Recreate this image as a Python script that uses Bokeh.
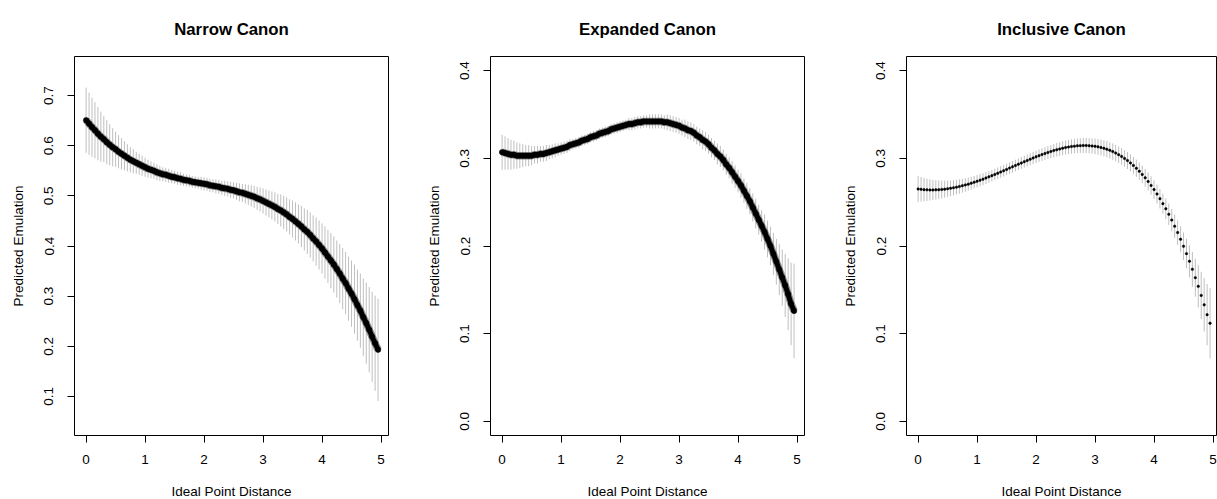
from bokeh.plotting import figure
from bokeh.layouts import row
from bokeh.models import FixedTicker, PrintfTickFormatter, Range1d, ColumnDataSource
from bokeh.embed import file_html
from bokeh.resources import INLINE

# ---- data ----
distance = [0.00, 0.05, 0.10, 0.15, 0.20, 0.25, 0.30, 0.35, 0.40, 0.45,
            0.50, 0.55, 0.60, 0.65, 0.70, 0.75, 0.80, 0.85, 0.90, 0.95,
            1.00, 1.05, 1.10, 1.15, 1.20, 1.25, 1.30, 1.35, 1.40, 1.45,
            1.50, 1.55, 1.60, 1.65, 1.70, 1.75, 1.80, 1.85, 1.90, 1.95,
            2.00, 2.05, 2.10, 2.15, 2.20, 2.25, 2.30, 2.35, 2.40, 2.45,
            2.50, 2.55, 2.60, 2.65, 2.70, 2.75, 2.80, 2.85, 2.90, 2.95,
            3.00, 3.05, 3.10, 3.15, 3.20, 3.25, 3.30, 3.35, 3.40, 3.45,
            3.50, 3.55, 3.60, 3.65, 3.70, 3.75, 3.80, 3.85, 3.90, 3.95,
            4.00, 4.05, 4.10, 4.15, 4.20, 4.25, 4.30, 4.35, 4.40, 4.45,
            4.50, 4.55, 4.60, 4.65, 4.70, 4.75, 4.80, 4.85, 4.90, 4.95]

narrow_pred = [0.651, 0.644, 0.637, 0.631, 0.624, 0.618, 0.613, 0.607, 0.602, 0.597,
               0.593, 0.588, 0.584, 0.580, 0.576, 0.572, 0.569, 0.566, 0.563, 0.560,
               0.557, 0.554, 0.552, 0.550, 0.547, 0.545, 0.543, 0.542, 0.540, 0.538,
               0.537, 0.535, 0.534, 0.532, 0.531, 0.530, 0.528, 0.527, 0.526, 0.525,
               0.524, 0.523, 0.521, 0.520, 0.519, 0.518, 0.516, 0.515, 0.514, 0.512,
               0.511, 0.509, 0.507, 0.506, 0.504, 0.502, 0.500, 0.498, 0.495, 0.493,
               0.490, 0.487, 0.484, 0.481, 0.478, 0.474, 0.471, 0.467, 0.463, 0.458,
               0.454, 0.449, 0.444, 0.439, 0.433, 0.428, 0.422, 0.415, 0.409, 0.402,
               0.395, 0.387, 0.379, 0.371, 0.363, 0.354, 0.345, 0.335, 0.326, 0.315,
               0.305, 0.294, 0.282, 0.271, 0.258, 0.246, 0.233, 0.219, 0.206, 0.193]
narrow_half = [0.065, 0.062, 0.059, 0.056, 0.053, 0.050, 0.046, 0.044, 0.041, 0.038,
               0.035, 0.033, 0.031, 0.029, 0.027, 0.025, 0.024, 0.022, 0.021, 0.020,
               0.019, 0.018, 0.017, 0.016, 0.016, 0.015, 0.014, 0.014, 0.014, 0.013,
               0.013, 0.013, 0.013, 0.012, 0.012, 0.012, 0.012, 0.012, 0.012, 0.013,
               0.013, 0.013, 0.013, 0.013, 0.014, 0.014, 0.014, 0.015, 0.015, 0.016,
               0.016, 0.017, 0.018, 0.018, 0.019, 0.020, 0.021, 0.022, 0.023, 0.024,
               0.025, 0.026, 0.027, 0.028, 0.029, 0.030, 0.032, 0.033, 0.034, 0.035,
               0.037, 0.038, 0.039, 0.041, 0.042, 0.044, 0.045, 0.046, 0.048, 0.049,
               0.050, 0.052, 0.053, 0.055, 0.056, 0.057, 0.059, 0.061, 0.062, 0.064,
               0.066, 0.069, 0.071, 0.074, 0.077, 0.081, 0.085, 0.090, 0.095, 0.102]

expanded_pred = [0.307, 0.306, 0.305, 0.304, 0.304, 0.303, 0.303, 0.303, 0.303, 0.303,
                 0.303, 0.304, 0.304, 0.305, 0.305, 0.306, 0.307, 0.308, 0.309, 0.310,
                 0.311, 0.312, 0.313, 0.315, 0.316, 0.317, 0.318, 0.320, 0.321, 0.322,
                 0.324, 0.325, 0.326, 0.328, 0.329, 0.330, 0.331, 0.333, 0.334, 0.335,
                 0.336, 0.337, 0.338, 0.339, 0.339, 0.340, 0.341, 0.341, 0.342, 0.342,
                 0.342, 0.342, 0.342, 0.342, 0.342, 0.341, 0.341, 0.340, 0.339, 0.338,
                 0.337, 0.335, 0.334, 0.332, 0.331, 0.329, 0.326, 0.324, 0.321, 0.319,
                 0.316, 0.312, 0.309, 0.305, 0.302, 0.298, 0.293, 0.289, 0.284, 0.279,
                 0.274, 0.269, 0.263, 0.257, 0.251, 0.244, 0.237, 0.230, 0.223, 0.216,
                 0.208, 0.200, 0.191, 0.182, 0.173, 0.164, 0.155, 0.145, 0.134, 0.126]
expanded_half = [0.020, 0.019, 0.018, 0.017, 0.016, 0.015, 0.014, 0.013, 0.012, 0.012,
                 0.011, 0.010, 0.010, 0.009, 0.009, 0.009, 0.008, 0.008, 0.008, 0.007,
                 0.007, 0.007, 0.007, 0.007, 0.006, 0.006, 0.006, 0.006, 0.006, 0.006,
                 0.006, 0.006, 0.006, 0.006, 0.006, 0.006, 0.006, 0.006, 0.006, 0.006,
                 0.006, 0.006, 0.006, 0.007, 0.007, 0.007, 0.007, 0.007, 0.007, 0.007,
                 0.008, 0.008, 0.008, 0.008, 0.008, 0.008, 0.009, 0.009, 0.009, 0.009,
                 0.009, 0.009, 0.010, 0.010, 0.010, 0.010, 0.010, 0.010, 0.011, 0.011,
                 0.011, 0.011, 0.011, 0.012, 0.012, 0.012, 0.012, 0.012, 0.013, 0.013,
                 0.013, 0.014, 0.014, 0.015, 0.015, 0.016, 0.017, 0.017, 0.018, 0.020,
                 0.021, 0.022, 0.024, 0.026, 0.029, 0.032, 0.036, 0.041, 0.047, 0.054]

inclusive_pred = [0.2650, 0.2646, 0.2642, 0.2640, 0.2639, 0.2639, 0.2640, 0.2642, 0.2644, 0.2648,
                  0.2652, 0.2658, 0.2664, 0.2671, 0.2678, 0.2687, 0.2696, 0.2705, 0.2716, 0.2727,
                  0.2738, 0.2750, 0.2762, 0.2775, 0.2788, 0.2802, 0.2815, 0.2829, 0.2844, 0.2858,
                  0.2873, 0.2888, 0.2902, 0.2917, 0.2932, 0.2946, 0.2961, 0.2975, 0.2989, 0.3003,
                  0.3016, 0.3030, 0.3042, 0.3054, 0.3066, 0.3077, 0.3088, 0.3097, 0.3106, 0.3115,
                  0.3122, 0.3128, 0.3134, 0.3138, 0.3142, 0.3144, 0.3145, 0.3145, 0.3143, 0.3140,
                  0.3136, 0.3130, 0.3123, 0.3114, 0.3103, 0.3090, 0.3076, 0.3059, 0.3041, 0.3021,
                  0.2998, 0.2974, 0.2947, 0.2918, 0.2886, 0.2852, 0.2816, 0.2777, 0.2735, 0.2690,
                  0.2643, 0.2593, 0.2539, 0.2483, 0.2424, 0.2361, 0.2295, 0.2226, 0.2153, 0.2077,
                  0.1997, 0.1913, 0.1826, 0.1734, 0.1639, 0.1540, 0.1437, 0.1329, 0.1217, 0.1120]
inclusive_half = [0.0147, 0.0140, 0.0133, 0.0127, 0.0121, 0.0115, 0.0110, 0.0106, 0.0101, 0.0097,
                  0.0093, 0.0090, 0.0087, 0.0084, 0.0082, 0.0079, 0.0077, 0.0075, 0.0074, 0.0072,
                  0.0071, 0.0070, 0.0069, 0.0068, 0.0067, 0.0067, 0.0066, 0.0066, 0.0066, 0.0066,
                  0.0066, 0.0066, 0.0066, 0.0066, 0.0067, 0.0067, 0.0068, 0.0068, 0.0069, 0.0069,
                  0.0070, 0.0071, 0.0072, 0.0073, 0.0074, 0.0075, 0.0076, 0.0077, 0.0078, 0.0079,
                  0.0080, 0.0081, 0.0082, 0.0083, 0.0084, 0.0085, 0.0086, 0.0087, 0.0087, 0.0088,
                  0.0089, 0.0090, 0.0090, 0.0091, 0.0092, 0.0092, 0.0093, 0.0093, 0.0094, 0.0095,
                  0.0095, 0.0096, 0.0097, 0.0097, 0.0098, 0.0099, 0.0100, 0.0101, 0.0103, 0.0104,
                  0.0106, 0.0109, 0.0111, 0.0114, 0.0118, 0.0122, 0.0127, 0.0133, 0.0140, 0.0148,
                  0.0157, 0.0168, 0.0182, 0.0198, 0.0217, 0.0240, 0.0269, 0.0304, 0.0348, 0.0402]

titles = ["Narrow Canon", "Expanded Canon", "Inclusive Canon"]
x_ticks = [0, 1, 2, 3, 4, 5]
y_ticks_narrow = [0.1, 0.2, 0.3, 0.4, 0.5, 0.6, 0.7]
y_ticks_other = [0.0, 0.1, 0.2, 0.3, 0.4]

FONT = "Liberation Sans"


def make(title, pred, half, yr, yt, xr, left, fw, right, size, thick):
    src = ColumnDataSource(dict(
        x=distance, y=pred,
        lo=[p - h for p, h in zip(pred, half)],
        hi=[p + h for p, h in zip(pred, half)]))
    p = figure(output_backend="svg", toolbar_location=None,
               frame_width=fw, frame_height=379,
               min_border_left=left, min_border_right=right,
               min_border_top=55, min_border_bottom=64,
               x_range=Range1d(*xr), y_range=Range1d(*yr))
    p.segment(x0="x", y0="lo", x1="x", y1="hi", source=src,
              line_color="#bfbfbf", line_width=1)
    if thick:
        p.line(x="x", y="y", source=src, line_color="#8c8c8c", line_width=7.5)
        p.line(x="x", y="y", source=src, line_color="black", line_width=5)
    p.scatter(x="x", y="y", source=src, size=size,
              fill_color="black", line_color="black", line_width=0.5)
    p.title.text = title
    p.title.align = "center"
    p.title.text_font = FONT
    p.title.text_font_size = "16.8px"
    p.title.text_font_style = "bold"
    p.title.text_color = "black"
    p.title.standoff = 35
    p.outline_line_color = "black"
    p.outline_line_width = 1
    p.outline_line_alpha = 1
    p.xgrid.visible = False
    p.ygrid.visible = False
    p.xaxis.ticker = FixedTicker(ticks=x_ticks)
    p.yaxis.ticker = FixedTicker(ticks=yt)
    p.yaxis.formatter = PrintfTickFormatter(format="%.1f")
    p.xaxis.axis_label = "Ideal Point Distance"
    p.yaxis.axis_label = "Predicted Emulation"
    for ax in (p.xaxis, p.yaxis):
        ax.axis_line_color = None
        ax.major_tick_out = 7
        ax.major_tick_in = 0
        ax.minor_tick_line_color = None
        ax.major_tick_line_color = "black"
        ax.major_label_text_font = FONT
        ax.major_label_text_font_size = "13.5px"
        ax.major_label_text_color = "black"
        ax.axis_label_text_font = FONT
        ax.axis_label_text_font_size = "13.5px"
        ax.axis_label_text_font_style = "normal"
        ax.axis_label_text_color = "black"
    p.yaxis.major_label_orientation = "vertical"
    p.yaxis.major_label_standoff = 14
    p.yaxis.axis_label_standoff = 16
    p.xaxis.major_label_standoff = 12
    p.xaxis.axis_label_standoff = 17
    return p


p1 = make(titles[0], narrow_pred, narrow_half, (0.022, 0.778), y_ticks_narrow,
          (-0.197, 5.127), 74, 314, 22, 5.5, True)
p2 = make(titles[1], expanded_pred, expanded_half, (-0.016, 0.416), y_ticks_other,
          (-0.197, 5.127), 80, 314, 16, 5.5, True)
p3 = make(titles[2], inclusive_pred, inclusive_half, (-0.016, 0.416), y_ticks_other,
          (-0.197, 5.059), 86, 310, 1, 2.5, False)

layout = row(p1, p2, p3)
open("out.html", "w").write(file_html(layout, INLINE))
